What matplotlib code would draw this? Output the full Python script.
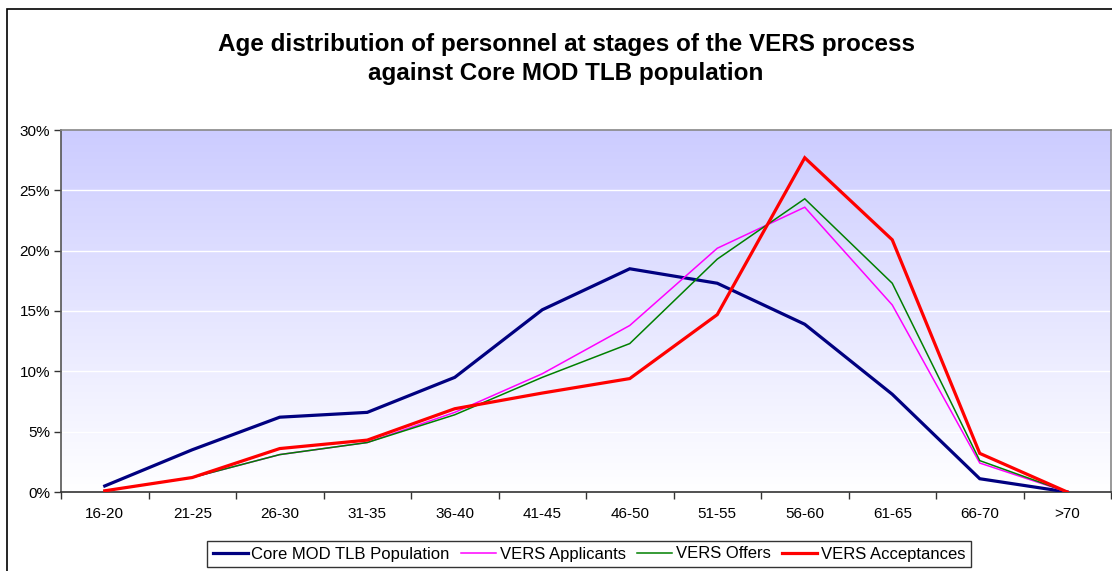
import numpy as np
import matplotlib
matplotlib.use('Agg')
import matplotlib.pyplot as plt
from matplotlib.patches import Rectangle
from matplotlib.ticker import FuncFormatter, FixedLocator

plt.rcParams['font.family'] = ['Liberation Sans', 'DejaVu Sans']

# ---------------------------------------------------------------------------
# Data (percent of each population)
# ---------------------------------------------------------------------------
age_bands = ['16-20', '21-25', '26-30', '31-35', '36-40', '41-45',
             '46-50', '51-55', '56-60', '61-65', '66-70', '>70']

core_population = [0.5, 3.5, 6.2, 6.6, 9.5, 15.1, 18.5, 17.3, 13.9, 8.1, 1.1, 0.0]
vers_applicants = [0.1, 1.2, 3.1, 4.1, 6.6, 9.8, 13.8, 20.2, 23.6, 15.5, 2.4, 0.0]
vers_offers = [0.1, 1.2, 3.1, 4.1, 6.4, 9.5, 12.3, 19.3, 24.3, 17.3, 2.6, 0.0]
vers_acceptances = [0.1, 1.2, 3.6, 4.3, 6.9, 8.2, 9.4, 14.7, 27.7, 20.9, 3.2, 0.0]

series = [
    ("Core MOD TLB Population", core_population, '#000080', 2.3),
    ("VERS Applicants", vers_applicants, '#ff00ff', 1.1),
    ("VERS Offers", vers_offers, '#008000', 1.1),
    ("VERS Acceptances", vers_acceptances, '#ff0000', 2.3),
]

fig = plt.figure(figsize=(11.12, 5.71), dpi=100)
fig.patch.set_facecolor('white')

# outer chart border (Excel chart area)
fig.patches.append(Rectangle((7 / 1112, -0.1), 1.2, 1 - 9 / 571 + 0.1,
                             transform=fig.transFigure, fill=False,
                             edgecolor='black', linewidth=1.2, zorder=0))

ax = fig.add_axes([61 / 1112, 1 - 492 / 571, 1050 / 1112, 362 / 571])

# lavender-to-white gradient plot area
top_rgb = np.array([204, 204, 255]) / 255.0
bot_rgb = np.array([255, 255, 255]) / 255.0
t = np.linspace(0, 1, 256)[:, None]
grad = top_rgb * (1 - t) + bot_rgb * t
grad = np.repeat(grad[:, None, :], 2, axis=1)
ax.imshow(grad, extent=[0, 1, 0, 1], transform=ax.transAxes,
          aspect='auto', zorder=0, interpolation='bilinear')

x = np.arange(len(age_bands))
ax.set_xlim(-0.5, len(age_bands) - 0.5)
ax.set_ylim(0, 30)

for yv in range(5, 30, 5):
    ax.axhline(yv, color='white', linewidth=1.0, zorder=1)

for label, vals, color, lw in series:
    ax.plot(x, vals, color=color, linewidth=lw, label=label, zorder=3,
            solid_joinstyle='miter')

ax.yaxis.set_major_locator(FixedLocator(range(0, 31, 5)))
ax.yaxis.set_major_formatter(FuncFormatter(lambda v, p: f"{int(v)}%"))
ax.set_xticks(x)
ax.set_xticklabels(age_bands)
ax.set_xticks(np.arange(-0.5, len(age_bands), 1.0), minor=True)
ax.tick_params(axis='x', which='major', length=0, pad=11, labelsize=11)
ax.tick_params(axis='x', which='minor', length=5, width=1, color='#333333')
ax.tick_params(axis='y', length=5, width=1, color='#333333', labelsize=11, pad=3)

for side in ['top', 'right']:
    ax.spines[side].set_color('#888888')
    ax.spines[side].set_linewidth(1.2)
ax.spines['left'].set_color('#555555')
ax.spines['bottom'].set_color('#333333')
ax.spines['left'].set_linewidth(1.2)
ax.spines['bottom'].set_linewidth(1.2)

fig.text(566 / 1112, 1 - 59 / 571,
         'Age distribution of personnel at stages of the VERS process\n'
         'against Core MOD TLB population',
         ha='center', va='center', fontsize=17.5, fontweight='bold',
         linespacing=1.3)

leg = fig.legend(loc='center', bbox_to_anchor=(589 / 1112, 1 - 554 / 571),
                 ncol=4, fontsize=12, frameon=True, fancybox=False,
                 handlelength=2.1, handletextpad=0.2, columnspacing=0.7,
                 borderpad=0.35, borderaxespad=0)
leg.get_frame().set_edgecolor('black')
leg.get_frame().set_linewidth(1.0)

fig.savefig('out.png', dpi=100, facecolor='white')
